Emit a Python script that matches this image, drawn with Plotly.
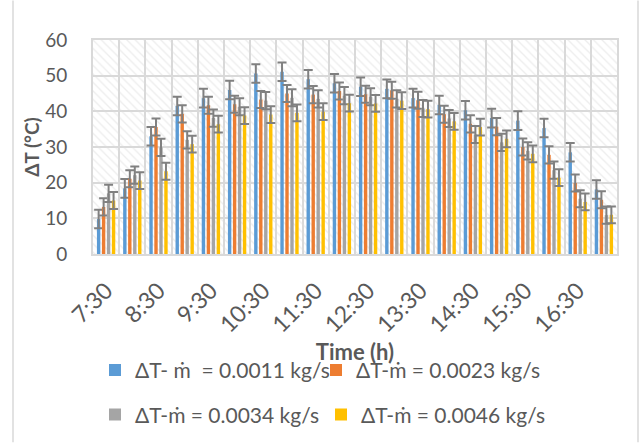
import plotly.graph_objects as go

times = ["7:30", "8:00", "8:30", "9:00", "9:30", "10:00", "10:30", "11:00", "11:30", "12:00",
         "12:30", "13:00", "13:30", "14:00", "14:30", "15:00", "15:30", "16:00", "16:30", "17:00"]

dt_0011 = [9.8, 18.4, 33.0, 41.5, 43.7, 46.0, 50.6, 51.1, 49.0, 47.9,
           46.9, 46.3, 43.7, 41.8, 40.3, 38.1, 37.4, 35.3, 28.5, 18.1]
dt_0023 = [13.2, 21.1, 35.6, 39.3, 41.7, 42.0, 43.3, 45.0, 44.7, 45.7,
           44.8, 45.9, 43.1, 39.2, 36.5, 35.7, 30.0, 27.8, 19.9, 15.2]
dt_0034 = [17.0, 22.1, 29.9, 32.0, 38.1, 41.3, 43.0, 43.8, 43.5, 44.4,
           44.1, 43.5, 40.8, 38.0, 33.5, 31.3, 28.9, 23.5, 15.5, 10.9]
dt_0046 = [15.0, 20.6, 23.2, 30.8, 36.4, 38.8, 39.1, 39.6, 39.9, 42.3,
           42.2, 43.0, 40.6, 37.2, 35.6, 32.3, 28.1, 21.4, 14.6, 11.0]

errors = [2.6, 2.4, 2.4, 2.35]
names = ["ΔT- ṁ\u00a0 = 0.0011 kg/s", "ΔT-ṁ = 0.0023 kg/s",
         "ΔT-ṁ = 0.0034 kg/s", "ΔT-ṁ = 0.0046 kg/s"]
colors = ["#5B9BD5", "#ED7D31", "#A5A5A5", "#FFC000"]
series = [dt_0011, dt_0023, dt_0034, dt_0046]

y_max = 60
n = len(times)
idx = list(range(n))

FONT = "Lato, 'Open Sans', sans-serif"
TXT = "#595959"
GRID = "#D9D9D9"

W, H = 642, 448
ML, MR, MT, MB = 93, 25, 40, 191
PW, PH = W - ML - MR, H - MT - MB

def px_x(px):
    return (px - ML) / PW

def px_y(py):
    return (H - MB - py) / PH

fig = go.Figure()

# hatched plot-area background
fig.add_trace(go.Bar(
    x=[(n - 1) / 2], y=[y_max], width=[n],
    marker=dict(color="rgba(0,0,0,0)", line=dict(width=0),
                pattern=dict(shape="\\", fgcolor="#DCDCDC", bgcolor="rgba(0,0,0,0)",
                             size=6, solidity=0.22, fillmode="overlay")),
    hoverinfo="skip", showlegend=False))

legend_ids = ["legend", "legend2", "legend3", "legend4"]
bar_w = 0.13
step = 0.19
for i, (vals, name, col, err) in enumerate(zip(series, names, colors, errors)):
    fig.add_trace(go.Bar(
        x=idx, y=vals, name=name, legend=legend_ids[i],
        offset=(i - 1.5) * step - bar_w / 2, width=bar_w,
        marker=dict(color=col, line=dict(width=0)),
        error_y=dict(type="data", array=[err] * n, color="#808080",
                     thickness=2, width=4.5),
    ))

# legend placement (pixel targets)
leg_pos = [(95, 375), (316, 375), (95, 420), (321, 420)]
layout_leg = {}
for lid, (lx, ly) in zip(legend_ids, leg_pos):
    layout_leg[lid] = dict(x=px_x(lx), y=px_y(ly), xanchor="left", yanchor="middle",
                           orientation="h", bgcolor="rgba(0,0,0,0)",
                           font=dict(family=FONT, size=21, color=TXT))

fig.update_layout(
    width=W, height=H,
    margin=dict(l=ML, r=MR, t=MT, b=MB),
    paper_bgcolor="white", plot_bgcolor="white",
    barmode="overlay",
    showlegend=True,
    font=dict(family=FONT, size=19, color=TXT),
    **layout_leg,
    xaxis=dict(
        range=[-0.5, n - 0.5], tickmode="array",
        tickvals=idx[::2], ticktext=times[::2], tickangle=-45,
        tickfont=dict(family=FONT, size=23, color=TXT), ticklabelstandoff=12,
        showgrid=False, zeroline=False,
        showline=True, mirror=True, linecolor=GRID, linewidth=2,
        minor=dict(tickmode="linear", tick0=-0.5, dtick=1, showgrid=True,
                   gridcolor=GRID, gridwidth=2, ticks=""),
        title=dict(text="<b>Time (h)</b>", font=dict(family=FONT, size=22, color=TXT),
                   standoff=4),
    ),
    yaxis=dict(
        range=[0, y_max], dtick=10, showgrid=True, gridcolor=GRID, gridwidth=2,
        zeroline=False, showline=True, mirror=True, linecolor=GRID, linewidth=2,
        tickfont=dict(family=FONT, size=19, color=TXT), ticklabelstandoff=20,
        title=dict(text="<b>ΔT (°C)</b>", font=dict(family=FONT, size=19, color=TXT),
                   standoff=1),
    ),
    shapes=[
        dict(type="line", xref="paper", yref="paper", x0=px_x(13), x1=px_x(13),
             y0=px_y(0), y1=px_y(H), line=dict(color=GRID, width=1.5)),
        dict(type="line", xref="paper", yref="paper", x0=px_x(638), x1=px_x(638),
             y0=px_y(0), y1=px_y(H), line=dict(color=GRID, width=1.5)),
    ],
)

fig.write_html("out.html")
